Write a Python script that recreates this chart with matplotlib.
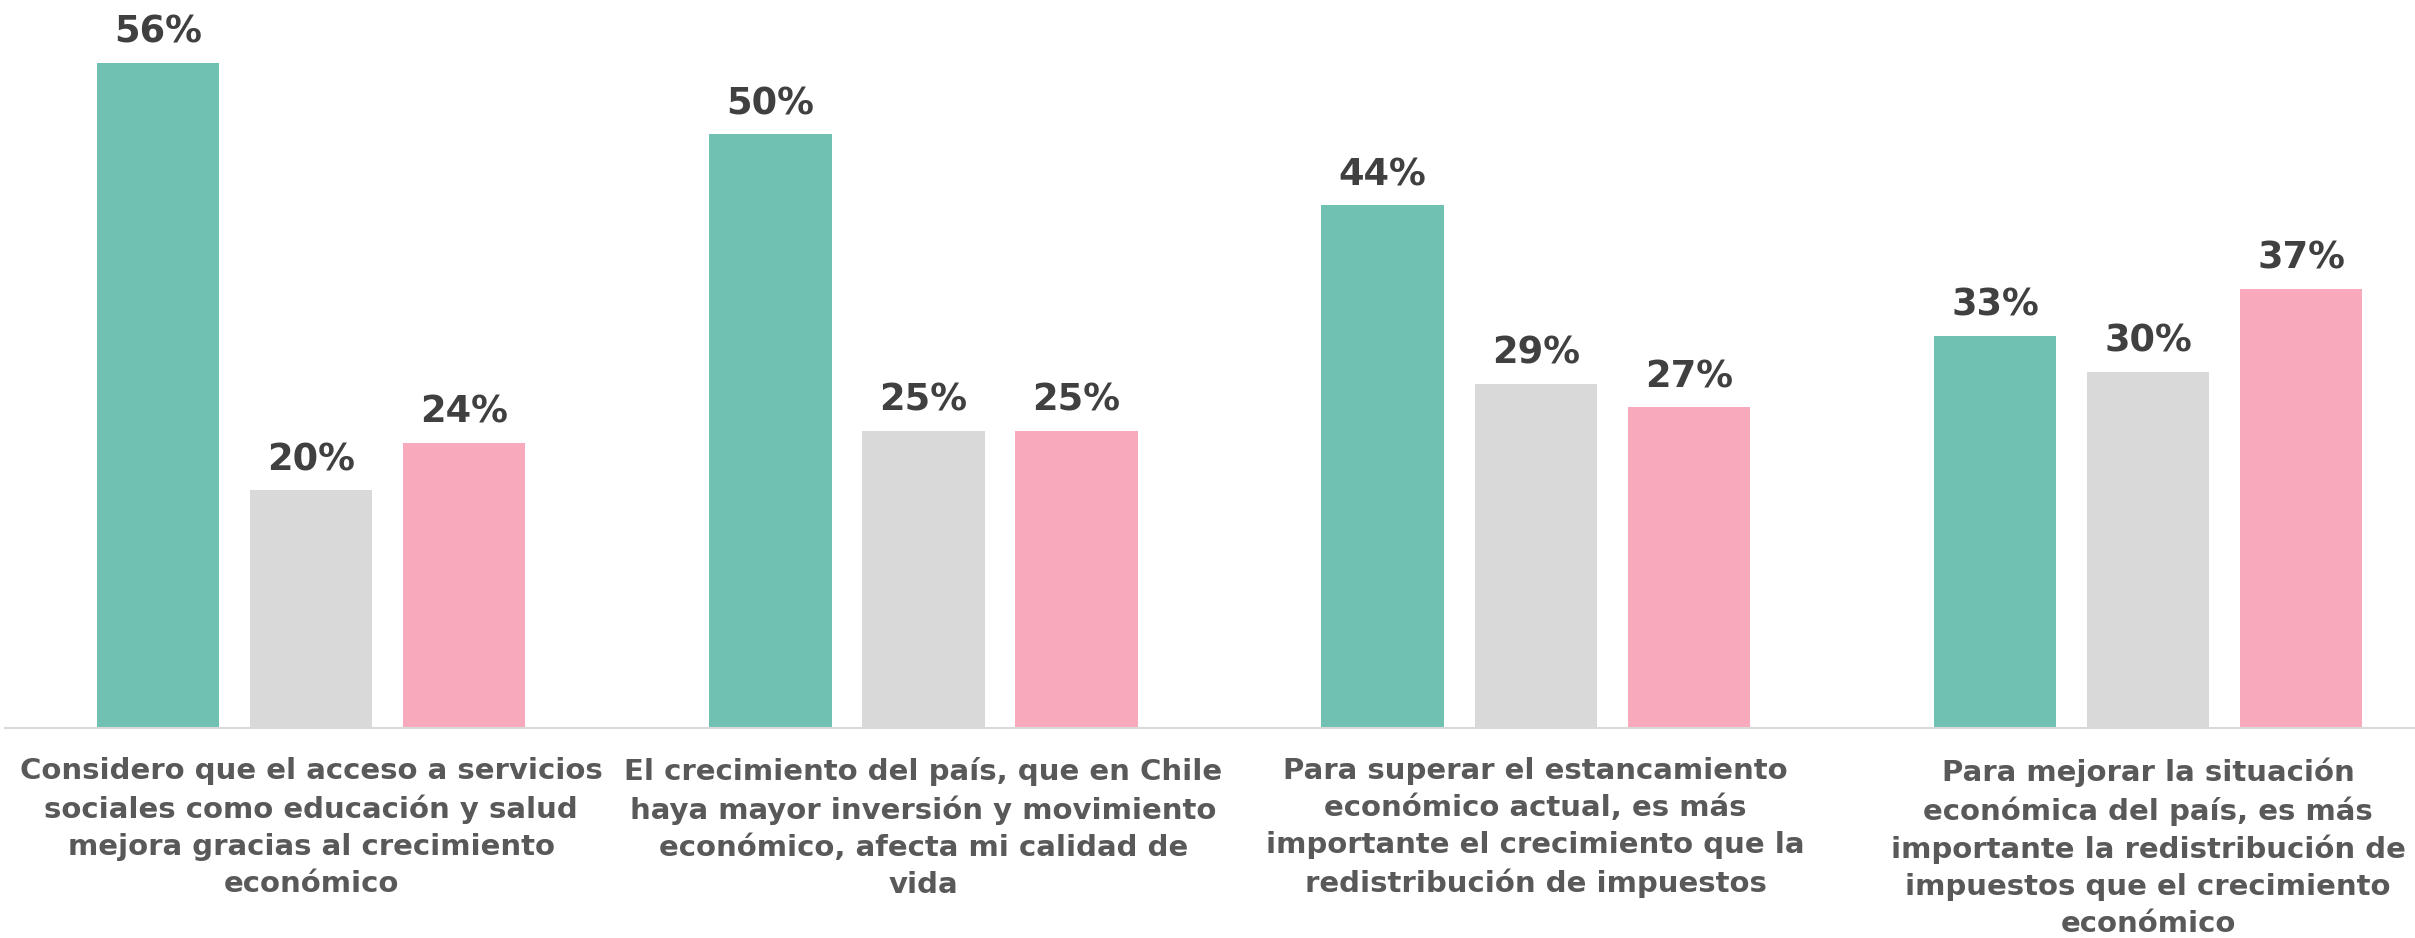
import matplotlib
matplotlib.use('Agg')
import matplotlib.pyplot as plt
import numpy as np

# data
categories = [
    "Considero que el acceso a servicios\nsociales como educación y salud\nmejora gracias al crecimiento\neconómico",
    "El crecimiento del país, que en Chile\nhaya mayor inversión y movimiento\neconómico, afecta mi calidad de\nvida",
    "Para superar el estancamiento\neconómico actual, es más\nimportante el crecimiento que la\nredistribución de impuestos",
    "Para mejorar la situación\neconómica del país, es más\nimportante la redistribución de\nimpuestos que el crecimiento\neconómico",
]
serie_a = [56, 50, 44, 33]
serie_b = [20, 25, 29, 30]
serie_c = [24, 25, 27, 37]

colors = ['#71c1b3', '#d9d9d9', '#f8a9bb']

plt.rcParams['font.family'] = ['DejaVu Sans']

fig = plt.figure(figsize=(24.15, 9.38), dpi=100)
ax = fig.add_axes([5/2415, 210/938, 1 - 5/2415, 728/938])

x = np.arange(len(categories))
w = 0.2
off = 0.25
for k, (vals, c) in enumerate(zip([serie_a, serie_b, serie_c], colors)):
    pos = x + (k - 1) * off
    ax.bar(pos, vals, width=w, color=c, zorder=2)
    for xp, v in zip(pos, vals):
        ax.annotate('%d%%' % v, (xp, v), xytext=(0, 14.5), textcoords='offset points',
                    ha='center', va='baseline', fontsize=26.5, fontweight='bold',
                    color='#404040')

for i, lab in enumerate(categories):
    ax.annotate(lab, (i, 0), xycoords=('data', 'axes fraction'),
                xytext=(0, -21), textcoords='offset points',
                ha='center', va='top', fontsize=21, fontweight='bold',
                color='#595959', linespacing=1.4)

ax.set_xlim(-0.5, 3.436)
ax.set_ylim(0, 61.3)
for s in ['top', 'right', 'left']:
    ax.spines[s].set_visible(False)
ax.spines['bottom'].set_color('#d9d9d9')
ax.spines['bottom'].set_linewidth(1.5)
ax.set_yticks([])
ax.set_xticks([])

plt.savefig('out.png', dpi=100)
